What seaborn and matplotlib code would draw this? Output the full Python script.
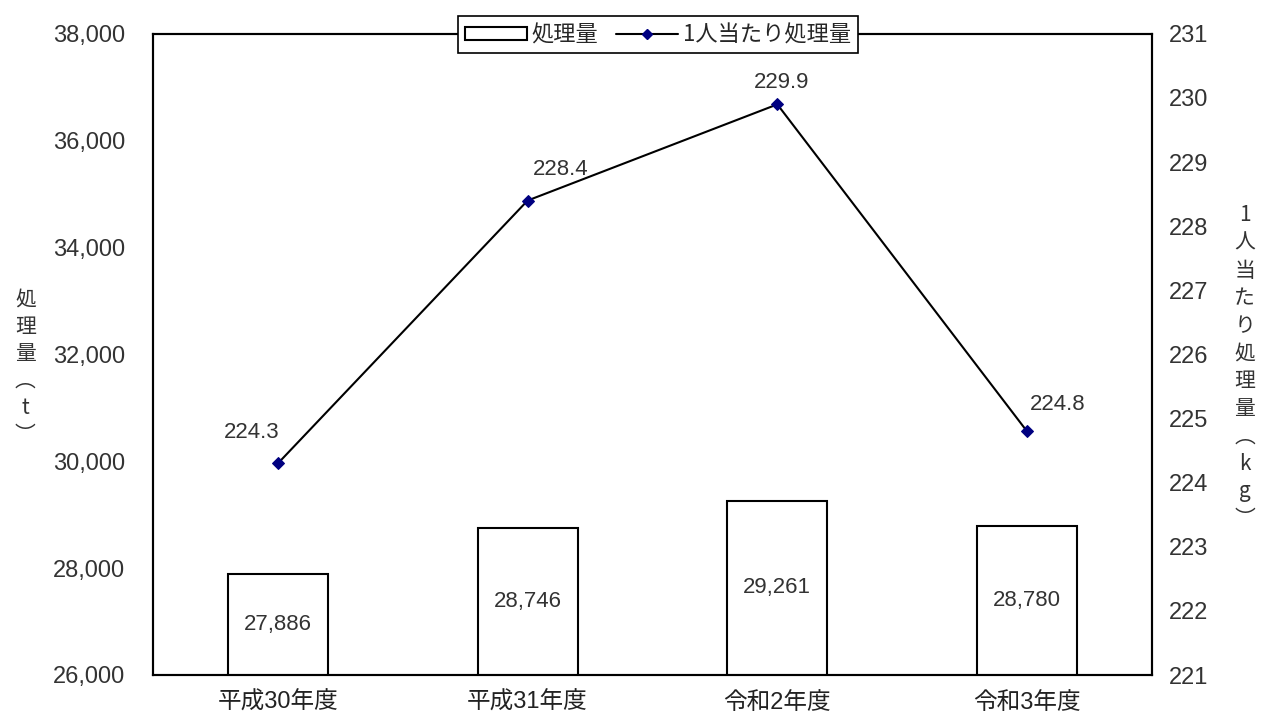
import matplotlib
matplotlib.use('Agg')
import matplotlib.pyplot as plt
import seaborn as sns
import pandas as pd
from matplotlib.patches import Patch
from matplotlib.lines import Line2D

years = ['平成30年度', '平成31年度', '令和2年度', '令和3年度']
amount = [27886, 28746, 29261, 28780]
per_capita = [224.3, 228.4, 229.9, 224.8]
amount_labels = ['27,886', '28,746', '29,261', '28,780']
per_capita_labels = ['224.3', '228.4', '229.9', '224.8']
# label offsets in points (dx, dy) for the line labels
line_label_offsets = [(-19, 22), (24, 22), (3, 16), (22, 19)]

sns.set_style('white')
plt.rcParams['font.family'] = ['Liberation Sans', 'Noto Sans CJK JP', 'DejaVu Sans']

df = pd.DataFrame({'year': years, 'amount': amount, 'per_capita': per_capita})

fig = plt.figure(figsize=(12.7, 7.2), dpi=100)
ax = fig.add_axes([0.1205, 0.0625, 0.7865, 0.8905])

sns.barplot(data=df, x='year', y='amount', ax=ax, width=0.4,
            color='white', edgecolor='black', linewidth=1.5, saturation=1)
ax.set_ylim(26000, 38000)
ax.set_yticks(range(26000, 38001, 2000))
ax.set_yticklabels([f'{v:,}' for v in range(26000, 38001, 2000)])
ax.set_xlim(-0.5, 3.5)
ax.set_xlabel('')
ax.set_ylabel('')

for i, v in enumerate(amount):
    ax.text(i, (26000 + v) / 2, amount_labels[i], ha='center', va='center',
            fontsize=16, color='#333333')

ax2 = ax.twinx()
sns.lineplot(data=df, x='year', y='per_capita', ax=ax2, sort=False,
             color='black', linewidth=1.5, marker='D', markersize=6,
             markerfacecolor='#000080', markeredgecolor='#000080')
ax2.set_ylim(221, 231)
ax2.set_yticks(range(221, 232))
ax2.set_ylabel('')
ax2.set_xlabel('')

for i, v in enumerate(per_capita):
    dx, dy = line_label_offsets[i]
    ax2.annotate(per_capita_labels[i], (i, v), xytext=(dx, dy),
                 textcoords='offset points', ha='center', va='center',
                 fontsize=16, color='#333333')

for a in (ax, ax2):
    for s in a.spines.values():
        s.set_color('black')
        s.set_linewidth(1.5)
    a.tick_params(axis='y', length=0, labelsize=17, labelcolor='#333333', pad=20)

ax.set_xticks([0.5, 1.5, 2.5], minor=True)
ax.tick_params(axis='x', which='major', length=0, labelsize=17, pad=12, labelcolor='#222222')
ax.tick_params(axis='x', which='minor', direction='in', length=6, width=1.2, color='black')
ax2.tick_params(axis='y', pad=12)

fig.text(0.02, 0.49, '\n'.join('処理量︵t︶'), ha='center', va='center',
         fontsize=15, color='#333333', linespacing=1.3,
         family=['Noto Sans CJK JP', 'DejaVu Sans'])
fig.text(0.98, 0.49, '\n'.join('1人当たり処理量︵kg︶'), ha='center', va='center',
         fontsize=15, color='#333333', linespacing=1.33,
         family=['Noto Sans CJK JP', 'DejaVu Sans'])

handles = [Patch(facecolor='white', edgecolor='black', linewidth=1.5),
           Line2D([0], [0], color='black', linewidth=1.5, marker='D', markersize=5,
                  markerfacecolor='#000080', markeredgecolor='#000080')]
leg = fig.legend(handles, ['処理量', '1人当たり処理量'], loc='center',
                 bbox_to_anchor=(0.518, 0.952), ncol=2, frameon=True, fancybox=False,
                 edgecolor='black', framealpha=1, handlelength=2.8,
                 handleheight=0.5, columnspacing=0.8, handletextpad=0.2,
                 borderpad=0.3, prop={'family': ['Noto Sans CJK JP', 'DejaVu Sans'], 'size': 16})
leg.get_frame().set_linewidth(1.2)

fig.savefig('out.png', dpi=100)
